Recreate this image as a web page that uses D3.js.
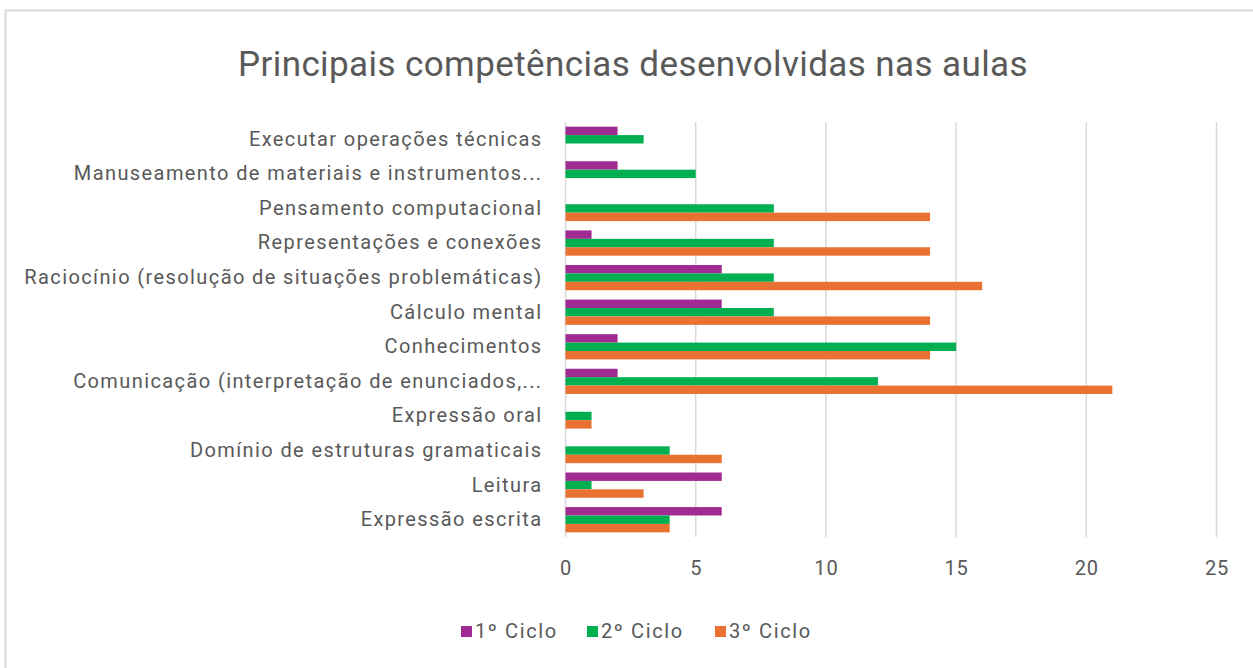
<!DOCTYPE html>
<html>
<head>
<meta charset="utf-8">
<script src="https://cdn.jsdelivr.net/npm/d3@7"></script>
<style>
  body { margin: 0; background: #fff; }
  #chart text { font-family: Roboto, "Noto Sans", sans-serif; fill: #595959; }
</style>
</head>
<body>
<div id="chart"></div>
<script>
var categories = [
  "Executar operações técnicas",
  "Manuseamento de materiais e instrumentos...",
  "Pensamento computacional",
  "Representações e conexões",
  "Raciocínio (resolução de situações problemáticas)",
  "Cálculo mental",
  "Conhecimentos",
  "Comunicação (interpretação de enunciados,...",
  "Expressão oral",
  "Domínio de estruturas gramaticais",
  "Leitura",
  "Expressão escrita"
];
var series = ["1º Ciclo", "2º Ciclo", "3º Ciclo"];
var ciclo1 = [2, 2, 0, 1, 6, 6, 2, 2, 0, 0, 6, 6];
var ciclo2 = [3, 5, 8, 8, 8, 8, 15, 12, 1, 4, 1, 4];
var ciclo3 = [0, 0, 14, 14, 16, 14, 14, 21, 1, 6, 3, 4];
var xTicks = [0, 5, 10, 15, 20, 25];
var colors = ["#a02b93", "#00b050", "#e97132"];

var W = 1253, H = 668;
var svg = d3.select("#chart").append("svg")
    .attr("width", W)
    .attr("height", H);

// chart frame
svg.append("rect")
    .attr("x", 5.5).attr("y", 10.5)
    .attr("width", W + 10).attr("height", H + 10)
    .attr("fill", "#fff")
    .attr("stroke", "#d9d9d9")
    .attr("stroke-width", 2);

svg.append("text")
    .attr("x", 633)
    .attr("y", 76)
    .attr("text-anchor", "middle")
    .style("font-size", "35px")
    .style("letter-spacing", "0.4px")
    .text("Principais competências desenvolvidas nas aulas");

var x = d3.scaleLinear().domain([0, 25]).range([565.5, 1216.5]);
var y = d3.scaleBand().domain(categories).range([122, 537])
    .paddingInner(0.27).paddingOuter(0.135);
var ySub = d3.scaleBand().domain(series).range([0, y.bandwidth()]);

// gridlines
svg.append("g").selectAll("line")
    .data(xTicks)
    .enter().append("line")
    .attr("x1", function (d) { return x(d); })
    .attr("x2", function (d) { return x(d); })
    .attr("y1", 122).attr("y2", 537)
    .attr("stroke", "#d9d9d9")
    .attr("stroke-width", 1.5);

// bars
var rows = categories.map(function (c, i) {
  return { cat: c, vals: [ciclo1[i], ciclo2[i], ciclo3[i]] };
});
var grp = svg.append("g").selectAll("g")
    .data(rows)
    .enter().append("g")
    .attr("transform", function (d) { return "translate(0," + y(d.cat) + ")"; });
grp.selectAll("rect")
    .data(function (d) {
      return d.vals.map(function (v, k) { return { s: series[k], v: v, k: k }; });
    })
    .enter().append("rect")
    .filter(function (d) { return d.v > 0; })
    .attr("x", x(0))
    .attr("y", function (d) { return ySub(d.s); })
    .attr("width", function (d) { return x(d.v) - x(0); })
    .attr("height", ySub.bandwidth())
    .attr("fill", function (d) { return colors[d.k]; });

// category labels
var yAxis = svg.append("g")
    .attr("transform", "translate(" + x(0) + ",0)")
    .call(d3.axisLeft(y).tickSize(0).tickPadding(23));
yAxis.select(".domain").remove();
yAxis.selectAll("text")
    .style("font-size", "20px")
    .style("letter-spacing", "1.4px");

// value axis
var xAxis = svg.append("g")
    .attr("transform", "translate(0,537)")
    .call(d3.axisBottom(x).tickValues(xTicks).tickSize(0).tickPadding(24));
xAxis.select(".domain").remove();
xAxis.selectAll("text")
    .style("font-size", "20px")
    .style("letter-spacing", "0.8px");

// legend
var legX = [461, 587, 715];
var leg = svg.append("g").selectAll("g")
    .data(series)
    .enter().append("g")
    .attr("transform", function (d, i) { return "translate(" + legX[i] + ",626)"; });
leg.append("rect")
    .attr("width", 11).attr("height", 11)
    .attr("fill", function (d, i) { return colors[i]; });
leg.append("text")
    .attr("x", 14).attr("y", 12)
    .style("font-size", "20px")
    .style("letter-spacing", "1.6px")
    .text(function (d) { return d; });
</script>
</body>
</html>
